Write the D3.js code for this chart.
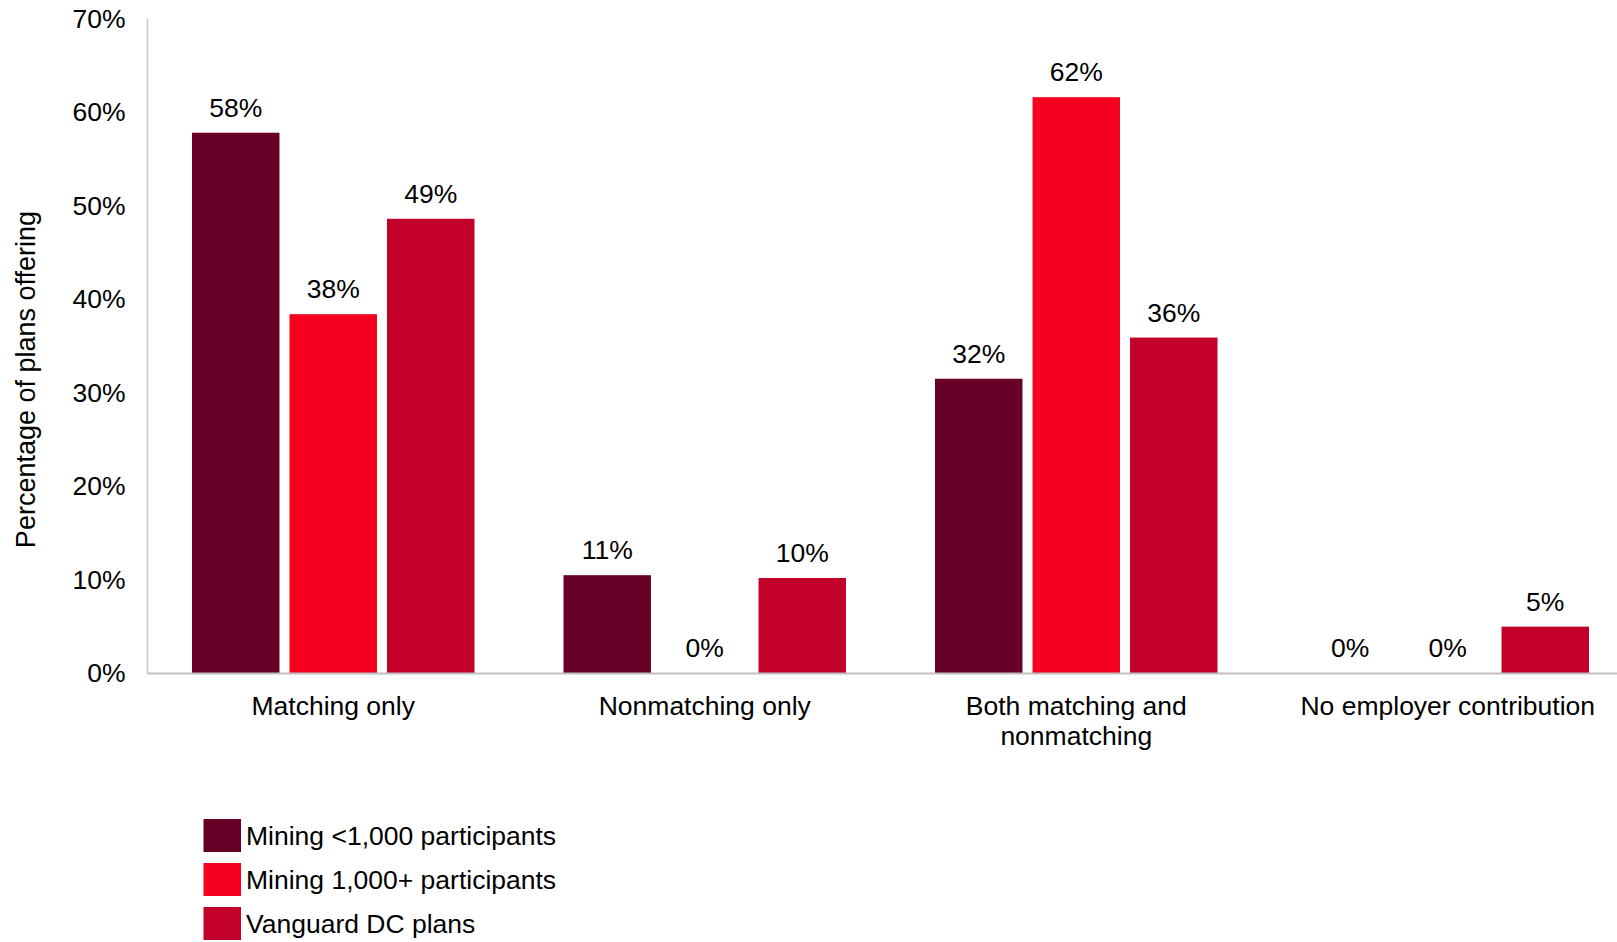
<!DOCTYPE html>
<html>
<head>
<meta charset="utf-8">
<script src="https://cdn.jsdelivr.net/npm/d3@7"></script>
<style>
  html, body { margin: 0; padding: 0; background: #ffffff; overflow: hidden; }
  svg { display: block; }
  text { font-family: "Liberation Sans", Arial, sans-serif; fill: #000; }
</style>
</head>
<body>
<svg id="chart" width="1617" height="942"></svg>
<script>
// ---- Data ----
const categories = ["Matching only", "Nonmatching only", "Both matching and\nnonmatching", "No employer contribution"];
const seriesNames = ["Mining <1,000 participants", "Mining 1,000+ participants", "Vanguard DC plans"];
const seriesColors = ["#660026", "#F5001F", "#C2002A"];
const miningSmall = [0.578, 0.105, 0.315, 0.0];
const miningLarge = [0.384, 0.0, 0.616, 0.0];
const vanguardDC = [0.486, 0.102, 0.359, 0.050];
const yTicks = [0, 0.1, 0.2, 0.3, 0.4, 0.5, 0.6, 0.7];
const yTitle = "Percentage of plans offering";

const seriesValues = [miningSmall, miningLarge, vanguardDC];

// ---- Layout ----
const svg = d3.select("#chart");
const plotLeft = 147.5, plotRight = 1633.5, plotTop = 18.6, plotBottom = 673.4;
const fontSize = 26.5;

const x0 = d3.scaleBand().domain(d3.range(categories.length)).range([plotLeft, plotRight]).padding(0);
const groupPad = 44.5;
const x1 = d3.scaleBand().domain(d3.range(seriesNames.length))
  .range([groupPad, x0.bandwidth() - groupPad]).paddingInner(0.103).paddingOuter(0);
const y = d3.scaleLinear().domain([0, 0.7]).range([plotBottom, plotTop]);
const fmt = d3.format(".0%");

// Y axis line
svg.append("line")
  .attr("x1", plotLeft).attr("x2", plotLeft).attr("y1", plotTop).attr("y2", plotBottom)
  .attr("stroke", "#c8c8c8").attr("stroke-width", 1.5);

// Y tick labels
const yAxis = d3.axisLeft(y).tickValues(yTicks).tickFormat(fmt).tickSize(0).tickPadding(22);
const yg = svg.append("g").attr("transform", `translate(${plotLeft},0)`).call(yAxis);
yg.select(".domain").remove();
yg.selectAll("text").style("font-size", fontSize + "px").style("font-family", '"Liberation Sans", Arial, sans-serif').attr("fill", "#000");

// Y title
svg.append("text")
  .attr("transform", `translate(34.5,379.5) rotate(-90)`)
  .attr("text-anchor", "middle")
  .style("font-size", "27px")
  .text(yTitle);

// Bars
const groups = svg.append("g").selectAll("g").data(categories).join("g")
  .attr("transform", (d, i) => `translate(${x0(i)},0)`);

groups.each(function(c, ci) {
  const g = d3.select(this);
  seriesValues.forEach((vals, si) => {
    const v = vals[ci];
    g.append("rect")
      .attr("x", x1(si)).attr("width", x1.bandwidth())
      .attr("y", y(v)).attr("height", y(0) - y(v))
      .attr("fill", seriesColors[si]);
    g.append("text")
      .attr("x", x1(si) + x1.bandwidth() / 2)
      .attr("y", y(v) - 16)
      .attr("text-anchor", "middle")
      .style("font-size", fontSize + "px")
      .text(fmt(Math.round(v * 100) / 100));
  });
});

// Baseline (x axis)
svg.append("line")
  .attr("x1", plotLeft).attr("x2", 1617).attr("y1", plotBottom).attr("y2", plotBottom)
  .attr("stroke", "#c0c0c0").attr("stroke-width", 2);

// Category labels
categories.forEach((c, ci) => {
  const lines = c.split("\n");
  const t = svg.append("text")
    .attr("text-anchor", "middle")
    .style("font-size", fontSize + "px");
  lines.forEach((ln, li) => {
    t.append("tspan")
      .attr("x", x0(ci) + x0.bandwidth() / 2)
      .attr("y", 714.5 + li * 30.5)
      .text(ln);
  });
});

// Legend
const legend = svg.append("g").attr("transform", "translate(203.5,819)");
seriesNames.forEach((n, i) => {
  const row = legend.append("g").attr("transform", `translate(0,${i * 44})`);
  row.append("rect").attr("width", 37.5).attr("height", 33).attr("fill", seriesColors[i]);
  row.append("text").attr("x", 42.5).attr("y", 26).style("font-size", fontSize + "px").text(n);
});
</script>
</body>
</html>
